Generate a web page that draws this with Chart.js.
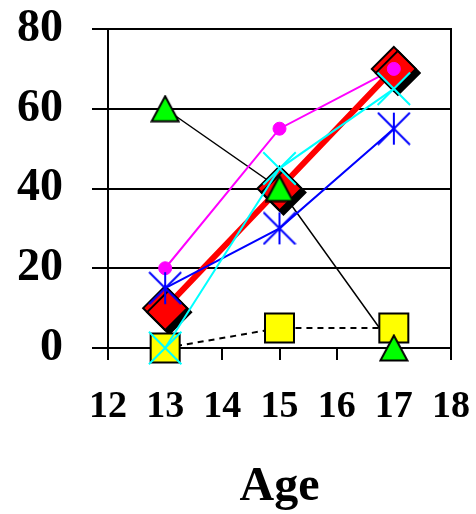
<!DOCTYPE html>
<html><head><meta charset="utf-8">
<script src="https://cdn.jsdelivr.net/npm/chart.js@4/dist/chart.umd.min.js"></script>
<style>html,body{margin:0;padding:0;background:#fff;overflow:hidden}</style>
</head><body>
<canvas id="c" width="476" height="514" style="display:block;width:476px;height:514px"></canvas>
<script>
// ---- data ----
const ages = [13, 15, 17];
const xTickValues = [12, 13, 14, 15, 16, 17, 18];
const yTickValues = [0, 20, 40, 60, 80];
const redSeries = [10, 40, 70];
const magentaSeries = [20, 55, 70];
const blueSeries = [15, 30, 55];
const cyanSeries = [0, 45, 65];
const greenSeries = [60, 40, 0];
const yellowSeries = [0, 5, 5];
const xTitle = 'Age';

const pts = arr => ages.map((a, i) => ({x: a, y: arr[i]}));

// custom marker canvases
function makeTriangle() {
  const c = document.createElement('canvas'); c.width = 30; c.height = 28;
  const g = c.getContext('2d');
  g.beginPath(); g.moveTo(15, 1.5); g.lineTo(28.5, 26.5); g.lineTo(1.5, 26.5); g.closePath();
  g.fillStyle = '#00FF00'; g.fill(); g.lineWidth = 2; g.strokeStyle = '#000'; g.stroke();
  return c;
}
function makeAsterisk() {
  const c = document.createElement('canvas'); c.width = 34; c.height = 34;
  const g = c.getContext('2d');
  g.strokeStyle = '#0000FF'; g.lineWidth = 2;
  g.beginPath();
  g.moveTo(17, 1); g.lineTo(17, 33);
  g.moveTo(1, 1); g.lineTo(33, 33);
  g.moveTo(1, 33); g.lineTo(33, 1);
  g.stroke();
  return c;
}
const triImg = makeTriangle();
const astImg = makeAsterisk();

const shadowPlugin = {
  id: 'shadowPlugin',
  beforeDatasetDraw(chart, args) {
    if (chart.data.datasets[args.index].shadow) {
      const ctx = chart.ctx; ctx.save();
      ctx.shadowColor = '#000'; ctx.shadowOffsetX = 4; ctx.shadowOffsetY = 4; ctx.shadowBlur = 0;
    }
  },
  afterDatasetDraw(chart, args) {
    if (chart.data.datasets[args.index].shadow) chart.ctx.restore();
  }
};
const framePlugin = {
  id: 'framePlugin',
  beforeDatasetsDraw(chart) {
    const {ctx, chartArea: a} = chart;
    ctx.save(); ctx.strokeStyle = '#000'; ctx.lineWidth = 2;
    ctx.beginPath(); ctx.moveTo(a.right, a.top - 1); ctx.lineTo(a.right, a.bottom); ctx.stroke();
    ctx.restore();
  }
};

const noPts = {pointRadius: 0, pointHoverRadius: 0};
const datasets = [
  // bottom-most first (higher order drawn first)
  {label: 'green line', data: pts(greenSeries), borderColor: '#000', borderWidth: 1.5, ...noPts, order: 9},
  {label: 'magenta line', data: pts(magentaSeries), borderColor: '#FF00FF', borderWidth: 2, ...noPts, order: 8},
  {label: 'red line', data: pts(redSeries), borderColor: '#FF0000', borderWidth: 6, ...noPts, order: 7},
  {label: 'red', data: pts(redSeries), showLine: false, pointStyle: 'rectRot', pointRadius: 22,
    pointBackgroundColor: '#FF0000', pointBorderColor: '#000', pointBorderWidth: 2, shadow: true, order: 6},
  {label: 'yellow', data: pts(yellowSeries), borderColor: '#000', borderWidth: 2, borderDash: [6, 5],
    pointStyle: 'rect', pointRadius: 20.5, pointBackgroundColor: '#FFFF00', pointBorderColor: '#000', pointBorderWidth: 2, order: 5},
  {label: 'green', data: pts(greenSeries), showLine: false, pointStyle: triImg, pointRadius: 15, order: 4},
  {label: 'magenta', data: pts(magentaSeries), showLine: false, pointStyle: 'circle', pointRadius: 6.5,
    pointBackgroundColor: '#FF00FF', pointBorderColor: '#FF00FF', pointBorderWidth: 1, order: 3},
  {label: 'blue', data: pts(blueSeries), borderColor: '#0000FF', borderWidth: 2, pointStyle: astImg, pointRadius: 17, order: 2},
  {label: 'cyan', data: pts(cyanSeries), borderColor: '#00FFFF', borderWidth: 2, pointStyle: 'crossRot', pointRadius: 23,
    pointBorderColor: '#00FFFF', pointBorderWidth: 2, order: 1}
];
datasets.forEach(d => { d.clip = false; d.tension = 0; d.fill = false; });

new Chart(document.getElementById('c'), {
  type: 'line',
  data: {datasets},
  options: {
    responsive: false, animation: false, devicePixelRatio: 1,
    layout: {padding: {top: 29, right: 21, left: 0, bottom: 0}},
    plugins: {legend: {display: false}, tooltip: {enabled: false}},
    scales: {
      x: {
        type: 'linear', min: xTickValues[0], max: xTickValues[xTickValues.length - 1],
        afterBuildTicks: s => { s.ticks = xTickValues.map(v => ({value: v})); },
        afterFit: s => { s.height = 166; s.paddingLeft = 0; s.paddingRight = 0; },
        grid: {drawOnChartArea: false, drawTicks: true, tickLength: 12, color: '#000', lineWidth: 2},
        border: {color: '#000', width: 2},
        ticks: {autoSkip: false, maxRotation: 0, padding: 24, color: '#000',
          font: {family: 'Liberation Serif', size: 38, weight: 'bold'}},
        title: {display: true, text: xTitle, color: '#000', padding: {top: 0, bottom: 0},
          font: {family: 'Liberation Serif', size: 48, weight: 'bold', lineHeight: 1.1}}
      },
      y: {
        min: yTickValues[0], max: yTickValues[yTickValues.length - 1],
        afterBuildTicks: s => { s.ticks = yTickValues.map(v => ({value: v})); },
        afterFit: s => { s.width = 108; s.paddingTop = 0; s.paddingBottom = 0; },
        grid: {color: '#000', lineWidth: 2, tickLength: 16},
        border: {color: '#000', width: 2},
        ticks: {padding: 29, color: '#000', font: {family: 'Liberation Serif', size: 46, weight: 'bold'}}
      }
    }
  },
  plugins: [shadowPlugin, framePlugin]
});
</script>
</body></html>
